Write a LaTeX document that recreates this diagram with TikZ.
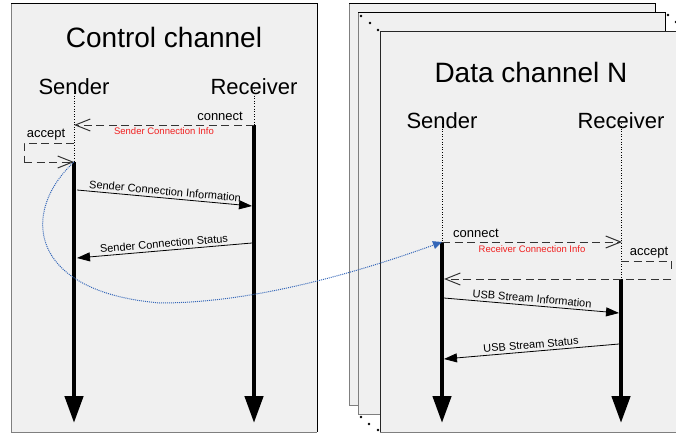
\documentclass[tikz,border=0pt]{standalone}
\usepackage{fontspec}
\setmainfont{Liberation Sans}
\usetikzlibrary{arrows.meta}
\definecolor{panelgray}{HTML}{F0F0F0}
\definecolor{edgegray}{HTML}{7F7F7F}
\definecolor{infored}{HTML}{F02020}
\definecolor{linkblue}{HTML}{3366B8}
\tikzset{
  lifeline/.style={dotted,line width=0.6pt},
  activation/.style={line width=4.5pt,-{Triangle[length=27pt,width=18pt]}},
  call/.style={line width=0.8pt,-{Triangle[length=13pt,width=9pt]}},
  handshake/.style={line width=1pt,draw=black!80,dash pattern=on 8pt off 4.5pt,-{Straight Barb[length=15pt,width=12pt,line width=1pt]}},
  loopback/.style={line width=1pt,draw=black!80,dash pattern=on 8pt off 4.5pt},
  heading/.style={font=\fontsize{28}{30}\selectfont,anchor=base,inner sep=0pt},
  role/.style={font=\fontsize{22}{24}\selectfont,anchor=base,inner sep=0pt},
  tag/.style={font=\fontsize{13}{15}\selectfont,anchor=base,inner sep=0pt},
  info/.style={font=\fontsize{9.5}{11}\selectfont,text=infored,anchor=base,inner sep=0pt},
  msglabel/.style={font=\fontsize{11}{13}\selectfont,midway,above,sloped,inner sep=2.5pt},
  dots/.style={fill=black}
}
\begin{document}
\begin{tikzpicture}[x=1pt,y=-1pt]
\useasboundingbox (0,0) rectangle (676,433);
% control panel
\fill[panelgray] (11,4) rectangle (317,432);
\draw[edgegray,line width=1pt] (11,4)--(11,432)--(317,432);
\draw[line width=1pt] (11,4)--(317,4)--(317,432);
% stacked data panels
\fill[panelgray] (349,4) rectangle (655,405);
\draw[edgegray,line width=1pt] (349,4)--(349,405)--(655,405);
\draw[line width=1pt] (349,4)--(655,4)--(655,405);
\fill[panelgray] (358,13) rectangle (665,414);
\draw[edgegray,line width=1pt] (358,13)--(358,414)--(665,414);
\draw[line width=1pt] (358,13)--(665,13)--(665,414);
\fill[panelgray] (380,32) rectangle (680,432);
\draw[edgegray,line width=1pt] (380,432)--(680,432);
\draw[black!85,line width=1pt] (380,432)--(380,32)--(680,32);
\foreach \p in {(361,16),(370,23),(378,30),(668,15),(676,22),(361,417),(369,424),(378,430)}
  \fill[dots] \p circle (1.3pt);

% control channel
\node[heading] (ctitle) at (164,48) {Control channel};
\node[role] (csend) at (74,95) {Sender};
\node[role] (crecv) at (254,95) {Receiver};
\coordinate (cs0) at (74,162);
\coordinate (cs9) at (74,423);
\coordinate (cr0) at (254,125);
\coordinate (cr9) at (254,423);
\coordinate (cconn) at (74,125);
\coordinate (cacc) at (74,143);
\draw[lifeline] (csend.south)++(0,-5) -- (cs0);
\draw[lifeline] (crecv.south)++(0,-5) -- (cr0);
\draw[activation] (cs0)--(cs9);
\draw[activation] (cr0)--(cr9);
\draw[handshake] (cr0)--(cconn);
\node[tag,anchor=base east] (cconnlbl) at (243,120) {connect};
\node[info] (cinfo) at (164,134) {Sender Connection Info};
\draw[loopback] (cacc)--++(-50,0)--++(0,19);
\draw[handshake] (24,162)--(cs0);
\node[tag] (cacclbl) at (46,137) {accept};
\coordinate (c1a) at (77,190);
\coordinate (c1b) at (252,206);
\draw[call] (c1a)--(c1b) node[msglabel] {Sender Connection Information};
\coordinate (c2a) at (252,243);
\coordinate (c2b) at (77,258);
\draw[call] (c2a)--(c2b) node[msglabel] {Sender Connection Status};

% data channel
\node[heading] (dtitle) at (531,83) {Data channel N};
\node[role] (dsend) at (442,128) {Sender};
\node[role] (drecv) at (621,128) {Receiver};
\coordinate (ds0) at (442,242);
\coordinate (ds9) at (442,423);
\coordinate (dr0) at (621,279);
\coordinate (dr9) at (621,423);
\coordinate (dconn) at (622,242);
\coordinate (dacc) at (621,261);
\coordinate (dback) at (444,279);
\draw[lifeline] (dsend.south)++(0,-5) -- (ds0);
\draw[lifeline] (drecv.south)++(0,-5) -- (dr0);
\draw[activation] (ds0)--(ds9);
\draw[activation] (dr0)--(dr9);
\draw[handshake] (ds0)--(dconn);
\node[tag] (dconnlbl) at (476,237) {connect};
\node[info] (dinfo) at (532,252) {Receiver Connection Info};
\draw[loopback] (dacc)--(671,261)--(671,272);
\draw[handshake] (671,279)--(dback);
\node[tag] (dacclbl) at (649,255) {accept};
\coordinate (d1a) at (444,298);
\coordinate (d1b) at (619,313);
\draw[call] (d1a)--(d1b) node[msglabel] {USB Stream Information};
\coordinate (d2a) at (619,344);
\coordinate (d2b) at (444,359);
\draw[call] (d2a)--(d2b) node[msglabel] {USB Stream Status};

% link between the channels
\draw[linkblue,densely dotted,line width=1pt,-{Triangle[length=9pt,width=8pt]}]
  (cs0) .. controls (20,212) and (28,292) .. (160,303)
  .. controls (260,303) and (370,268) .. (ds0);
\end{tikzpicture}
\end{document}
